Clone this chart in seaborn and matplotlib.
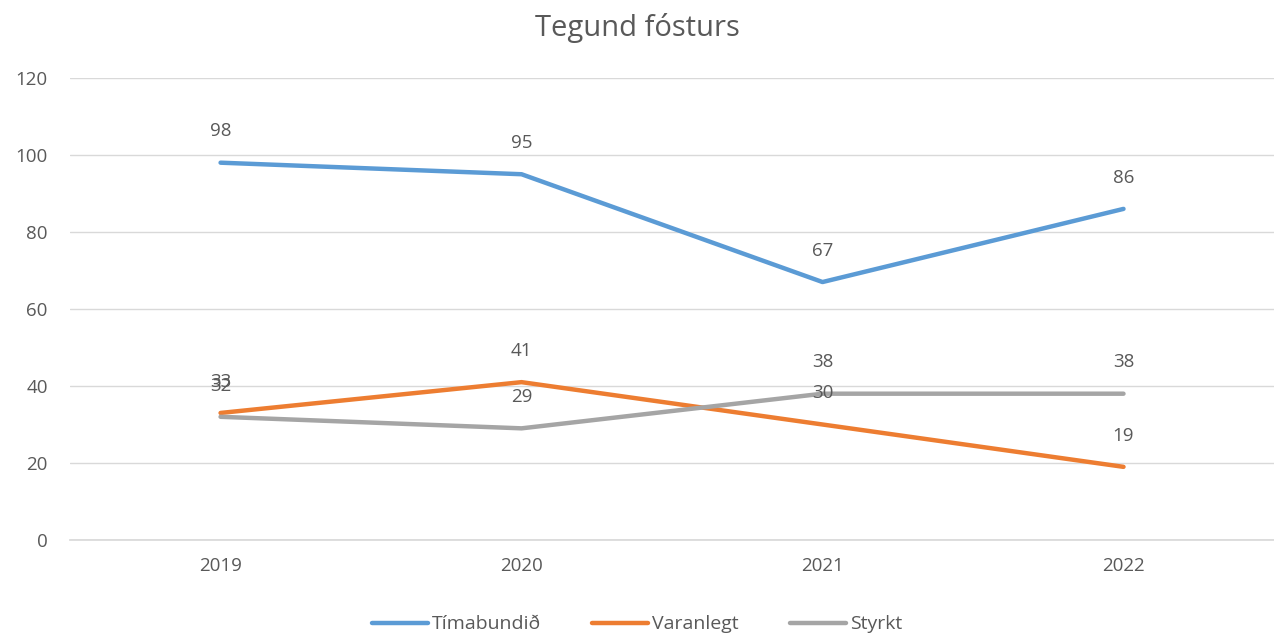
import numpy as np
import pandas as pd
import seaborn as sns
import matplotlib.pyplot as plt

# data
years = ['2019', '2020', '2021', '2022']
timabundid = [98, 95, 67, 86]
varanlegt = [33, 41, 30, 19]
styrkt = [32, 29, 38, 38]
series_names = ['Tímabundið', 'Varanlegt', 'Styrkt']
colors = ['#5B9BD5', '#ED7D31', '#A5A5A5']

rows = []
for name, vals in zip(series_names, [timabundid, varanlegt, styrkt]):
    for i, v in enumerate(vals):
        rows.append({'Ár': i, 'Fjöldi': v, 'Tegund': name})
df = pd.DataFrame(rows)

sns.set_theme(style="white")
plt.rcParams['font.family'] = ['Open Sans', 'DejaVu Sans']
txt = '#595959'

fig = plt.figure(figsize=(12.74, 6.35), dpi=100)
ax = fig.add_axes([0.055, 0.1496, 0.945, 0.7276])

sns.lineplot(data=df, x='Ár', y='Fjöldi', hue='Tegund', hue_order=series_names,
             palette=colors, linewidth=3.2, ax=ax, legend=False)

# data labels
for name, vals in zip(series_names, [timabundid, varanlegt, styrkt]):
    for i, v in enumerate(vals):
        ax.annotate(str(v), (i, v), xytext=(0, 16), textcoords='offset points',
                    ha='center', va='bottom', fontsize=13.5, color=txt)

ax.set_xlim(-0.5, 3.5)
ax.set_ylim(0, 120)
ax.set_yticks(range(0, 121, 20))
ax.set_xticks(range(len(years)))
ax.set_xticklabels(years)
ax.yaxis.grid(True, color='#D9D9D9', linewidth=1)
ax.set_axisbelow(True)
for s in ['top', 'right', 'left']:
    ax.spines[s].set_visible(False)
ax.spines['bottom'].set_color('#D9D9D9')
ax.tick_params(axis='both', length=0, labelsize=13.5, labelcolor=txt)
ax.tick_params(axis='x', pad=12)
ax.tick_params(axis='y', pad=16)
ax.set_xlabel('')
ax.set_ylabel('')

fig.suptitle('Tegund fósturs', y=0.98, fontsize=21, color=txt)

handles = [plt.Line2D([0], [0], color=c, lw=3.2) for c in colors]
fig.legend(handles, series_names, loc='lower center', ncol=3, frameon=False,
           bbox_to_anchor=(0.5, -0.025), fontsize=14, labelcolor=txt,
           handlelength=2.9, handletextpad=0.2, columnspacing=2.6)

plt.savefig('out.png', dpi=100)
